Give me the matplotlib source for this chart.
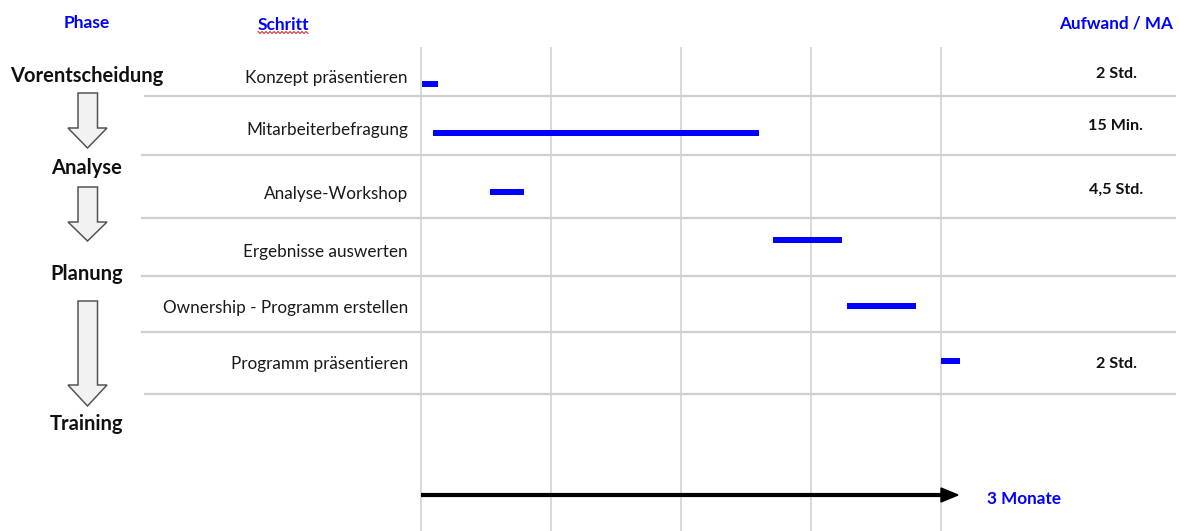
import matplotlib
matplotlib.use("Agg")
import matplotlib.pyplot as plt
from matplotlib.patches import Polygon
import numpy as np

# ---------------- data ----------------
phases = ["Vorentscheidung", "Analyse", "Planung", "Training"]
steps = ["Konzept präsentieren", "Mitarbeiterbefragung", "Analyse-Workshop",
         "Ergebnisse auswerten", "Ownership - Programm erstellen",
         "Programm präsentieren"]
start_weeks = [0.02, 0.28, 1.59, 8.12, 9.83, 12.0]
end_weeks = [0.39, 7.80, 2.38, 9.72, 11.42, 12.44]
efforts = ["2 Std.", "15 Min.", "4,5 Std.", "", "", "2 Std."]
grid_weeks = [0, 3, 6, 9, 12]
timeline_label = "3 Monate"
headers = ["Phase", "Schritt", "Aufwand / MA"]

# ---------------- layout (pixels) ----------------
W, H = 1179, 531
X0 = 421          # pixel of week 0
K = 130 / 3       # pixels per week
FONT = "Lato"
BLUE = "#0000ff"
DY = 1.5          # small vertical text offset

fig = plt.figure(figsize=(W / 100, H / 100), dpi=100)
ax = fig.add_axes([0, 0, 1, 1])
ax.set_xlim(-X0 / K, (W - X0) / K)
ax.set_ylim(H, 0)
ax.axis("off")


def px(x):
    return (x - X0) / K


# vertical grid lines
for g in grid_weeks:
    ax.plot([g, g], [48, H], color="#d9d9d9", lw=1.4, zorder=1)

# horizontal separators
sep_y = [96, 155, 218, 276, 332, 394]
sep_x0 = [145, 142, 142, 142, 142, 145]
for y, x0 in zip(sep_y, sep_x0):
    ax.plot([px(x0), px(1175)], [y, y], color="#d0d0d0", lw=1.6, zorder=1)

# rows
label_y = [76, 129, 193, 251, 307, 362]
bar_y = [84, 133, 192, 240, 306, 361]
effort_y = [72, 125, 188, 0, 0, 362]
for i, s in enumerate(steps):
    ax.text(px(408), label_y[i] + DY, s, ha="right", va="center",
            fontsize=12.3, family=FONT, color="#1a1a1a")
    ax.barh(bar_y[i], end_weeks[i] - start_weeks[i], left=start_weeks[i],
            height=5.5, color=BLUE, zorder=3)
    if efforts[i]:
        ax.text(px(1116), effort_y[i] + DY, efforts[i], ha="center",
                va="center", fontsize=11.6, family=FONT, fontweight="bold",
                color="#111111")

# headers
ax.text(px(87), 22 + DY, headers[0], ha="center", va="center", fontsize=12.5,
        family=FONT, fontweight="bold", color=BLUE)
ax.text(px(283), 23 + DY, headers[1], ha="center", va="center", fontsize=12.5,
        family=FONT, fontweight="bold", color=BLUE)
ax.text(px(1173), 22 + DY, headers[2], ha="right", va="center", fontsize=12.3,
        family=FONT, fontweight="bold", color=BLUE)
# spell-check wavy underline under "Schritt"
wx = np.linspace(258, 308, 26)
wy = 32.5 + np.where(np.arange(26) % 2 == 0, -1.0, 1.0)
ax.plot(px(wx), wy, color="#e03030", lw=0.8)

# phases
phase_y = [74, 167, 273, 423]
for p, y in zip(phases, phase_y):
    ax.text(px(87), y + DY, p, ha="center", va="center", fontsize=14.5,
            family=FONT, fontweight="bold", color="#111111")

# block arrows between phases
arrows = [(93, 128, 148), (187, 222, 241), (301, 385, 406)]
for top, hs, tip in arrows:
    pts = [(78, top), (97.5, top), (97.5, hs), (107, hs), (87.5, tip),
           (68, hs), (78, hs)]
    ax.add_patch(Polygon([(px(x), y) for x, y in pts], closed=True,
                         facecolor="#f2f2f2", edgecolor="#555555", lw=1.1,
                         zorder=2))

# timeline arrow
ax.plot([0, 12], [495, 495], color="black", lw=3, zorder=3,
        solid_capstyle="butt")
ax.add_patch(Polygon([(12, 488), (px(958), 495), (12, 502)], closed=True,
                     facecolor="black", edgecolor="black", zorder=3))
ax.text(px(987), 497 + DY, timeline_label, ha="left", va="center",
        fontsize=12.3, family=FONT, fontweight="bold", color=BLUE)

fig.savefig("out.png", dpi=100)
